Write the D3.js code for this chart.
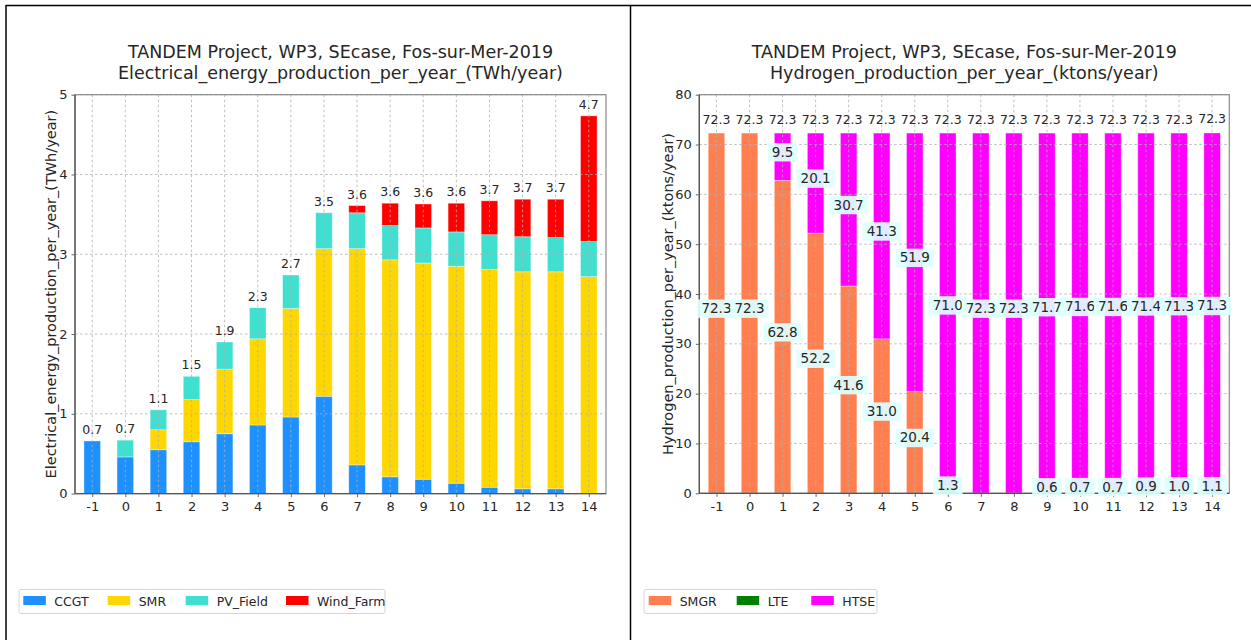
<!DOCTYPE html>
<html><head><meta charset="utf-8">
<script src="https://cdn.jsdelivr.net/npm/d3@7"></script>
<style>
body{margin:0;background:#fff}
svg{display:block}
text{font-family:"DejaVu Sans",sans-serif;fill:#262626}
</style>
</head><body>
<svg id="c" width="1251" height="640"></svg>
<script>
// ---- data ----
const years = [-1,0,1,2,3,4,5,6,7,8,9,10,11,12,13,14];
const elecSeries = ["CCGT","SMR","PV_Field","Wind_Farm"];
const ccgt     = [0.66,0.46,0.55,0.65,0.75,0.86,0.96,1.22,0.36,0.21,0.18,0.13,0.08,0.06,0.06,0.00];
const smr      = [0.00,0.00,0.25,0.53,0.81,1.08,1.36,1.85,2.71,2.72,2.71,2.72,2.73,2.72,2.72,2.72];
const pvField  = [0.00,0.21,0.25,0.29,0.34,0.39,0.42,0.45,0.45,0.43,0.44,0.43,0.435,0.44,0.43,0.44];
const windFarm = [0.00,0.00,0.00,0.00,0.00,0.00,0.00,0.00,0.09,0.28,0.30,0.36,0.425,0.47,0.48,1.575];
const elecTicks = [0,1,2,3,4,5];

const h2Series = ["SMGR","LTE","HTSE"];
const smgr = [72.3,72.3,62.8,52.2,41.6,31.0,20.4,0,0,0,0,0,0,0,0,0];
const lte  = [0,0,0,0,0,0,0,1.3,0,0,0.6,0.7,0.7,0.9,1.0,1.06];
const htse = [0,0,9.5,20.1,30.7,41.3,51.9,71.0,72.3,72.3,71.7,71.6,71.6,71.4,71.3,71.26];
const h2Ticks = [0,10,20,30,40,50,60,70,80];

const titleLine1 = "TANDEM Project, WP3, SEcase, Fos-sur-Mer-2019";

const svg = d3.select("#c");

// frame lines
svg.append("line").attr("x1",6).attr("x2",1251).attr("y1",5.5).attr("y2",5.5).attr("stroke","#000").attr("stroke-width",1.5);
svg.append("line").attr("x1",6).attr("x2",6).attr("y1",5).attr("y2",640).attr("stroke","#000").attr("stroke-width",1.5);
svg.append("line").attr("x1",630.5).attr("x2",630.5).attr("y1",5).attr("y2",640).attr("stroke","#000").attr("stroke-width",1.5);

function chart(cfg){
  const g = svg.append("g");
  const x = d3.scaleLinear().domain([-1.52,14.52]).range([cfg.left,cfg.right]);
  const y = d3.scaleLinear().domain([0,cfg.ymax]).range([cfg.bottom,cfg.top]);
  const bw = x(0.25)-x(0);

  const rows = years.map((yr,i)=>{const o={year:yr}; cfg.series.forEach((s,j)=>o[s]=cfg.values[j][i]); return o;});
  const stack = d3.stack().keys(cfg.series)(rows);

  stack.forEach((layer,j)=>{
    g.append("g").selectAll("rect").data(layer).join("rect")
      .attr("x",d=>x(d.data.year)-bw)
      .attr("width",2*bw)
      .attr("y",d=>y(d[1]))
      .attr("height",d=>Math.max(0,y(d[0])-y(d[1])))
      .attr("fill",cfg.colors[j])
      .attr("stroke","rgba(255,255,255,0.45)")
      .attr("stroke-width",0.8)
      .attr("display",d=>(d[1]-d[0])>0?null:"none");
  });

  // grid
  const grid = g.append("g").attr("stroke","#b0b0b0").attr("stroke-width",0.8).attr("stroke-dasharray","2.5,2.5");
  years.forEach(v=>grid.append("line").attr("x1",x(v)).attr("x2",x(v)).attr("y1",cfg.top).attr("y2",cfg.bottom));
  cfg.ticks.forEach(v=>grid.append("line").attr("x1",cfg.left).attr("x2",cfg.right).attr("y1",y(v)).attr("y2",y(v)));

  // axes
  const xa = g.append("g").attr("transform",`translate(0,${cfg.bottom})`)
    .call(d3.axisBottom(x).tickValues(years).tickSize(3.5).tickPadding(5).tickFormat(d=>String(d)));
  const ya = g.append("g").attr("transform",`translate(${cfg.left},0)`)
    .call(d3.axisLeft(y).tickValues(cfg.ticks).tickSize(3.5).tickPadding(4).tickFormat(d=>String(d)));
  [xa,ya].forEach(a=>{
    a.select(".domain").remove();
    a.selectAll(".tick line").attr("stroke","#555").attr("stroke-width",0.9);
    a.selectAll(".tick text").attr("font-size",13).attr("font-family","DejaVu Sans").attr("fill","#262626");
  });
  g.append("rect").attr("x",cfg.left).attr("y",cfg.top).attr("width",cfg.right-cfg.left).attr("height",cfg.bottom-cfg.top)
    .attr("fill","none").attr("stroke","#8a8a8a").attr("stroke-width",1.2);
  g.append("line").attr("x1",cfg.left).attr("x2",cfg.left).attr("y1",cfg.top).attr("y2",cfg.bottom).attr("stroke","#555").attr("stroke-width",1.3);
  g.append("line").attr("x1",cfg.left).attr("x2",cfg.right).attr("y1",cfg.bottom).attr("y2",cfg.bottom).attr("stroke","#555").attr("stroke-width",1.3);

  // segment labels with boxes
  if(cfg.segLabels){
    stack.forEach((layer)=>{
      layer.forEach(d=>{
        const v = d[1]-d[0];
        if(v<=0) return;
        const cx = x(d.data.year), cy = y((d[0]+d[1])/2);
        const lg = g.append("g");
        const t = lg.append("text").attr("x",cx).attr("y",cy).attr("text-anchor","middle")
          .attr("font-size",13.5).text(d3.format(".1f")(v));
        const bb = t.node().getBBox();
        lg.insert("rect","text").attr("x",bb.x-4).attr("y",cy-13.7).attr("width",bb.width+8).attr("height",18.4)
          .attr("fill","#e0ffff").attr("fill-opacity",0.92);
      });
    });
  }

  // total labels
  const totals = rows.map(r=>d3.sum(cfg.series,s=>r[s]));
  g.append("g").selectAll("text").data(years).join("text")
    .attr("x",d=>x(d)).attr("y",(d,i)=>y(totals[i])-cfg.totOffset)
    .attr("text-anchor","middle").attr("font-size",12.5).text((d,i)=>d3.format(".1f")(totals[i]));

  // titles
  const cx = (cfg.left+cfg.right)/2;
  g.append("text").attr("x",cx).attr("y",57.5).attr("text-anchor","middle").attr("font-size",17.5).text(titleLine1);
  g.append("text").attr("x",cx).attr("y",79).attr("text-anchor","middle").attr("font-size",17.5).text(cfg.title2);
  g.append("text").attr("transform",`translate(${cfg.ylabX},${(cfg.top+cfg.bottom)/2}) rotate(-90)`)
    .attr("text-anchor","middle").attr("font-size",14.5).text(cfg.ylabel);

  // legend
  const lgd = g.append("g");
  lgd.append("rect").attr("x",cfg.legX).attr("y",589.5).attr("width",cfg.legW).attr("height",24)
    .attr("rx",2).attr("fill","#fff").attr("stroke","#d6d6d6").attr("stroke-width",1);
  cfg.series.forEach((s,j)=>{
    lgd.append("rect").attr("x",cfg.legItems[j]).attr("y",596).attr("width",22.5).attr("height",9).attr("fill",cfg.colors[j]);
    lgd.append("text").attr("x",cfg.legItems[j]+31).attr("y",605.5).attr("font-size",12.5).text(s);
  });
}

chart({
  left:75, right:606, top:94.7, bottom:493.6, ymax:5,
  series:elecSeries, values:[ccgt,smr,pvField,windFarm],
  colors:["#1e90ff","#ffd700","#40e0d0","#ff0000"],
  ticks:elecTicks, segLabels:false, totOffset:7,
  title2:"Electrical_energy_production_per_year_(TWh/year)",
  ylabel:"Electrical_energy_production_per_year_(TWh/year)", ylabX:56,
  legX:19, legW:366, legItems:[23.3,107.7,185.7,286]
});

chart({
  left:699.3, right:1229.3, top:94.7, bottom:493.3, ymax:80,
  series:h2Series, values:[smgr,lte,htse],
  colors:["#ff7f50","#008000","#ff00ff"],
  ticks:h2Ticks, segLabels:true, totOffset:9.5,
  title2:"Hydrogen_production_per_year_(ktons/year)",
  ylabel:"Hydrogen_production_per_year_(ktons/year)", ylabX:673,
  legX:644, legW:233, legItems:[648.7,736.7,811.3]
});
</script>
</body></html>
